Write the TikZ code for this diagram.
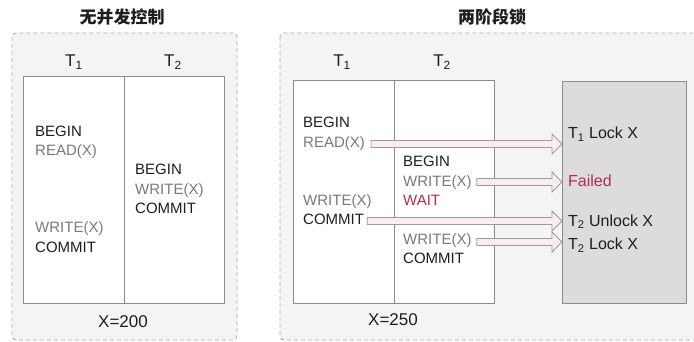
\documentclass[tikz,border=0pt]{standalone}
\usepackage{fontspec}
\setmainfont{Liberation Sans}
\newfontfamily\cjk{Noto Sans CJK SC}
\usetikzlibrary{calc}
\definecolor{panelbg}{HTML}{F4F4F4}
\definecolor{paneldash}{HTML}{A8A8A8}
\definecolor{boxline}{HTML}{8C8C8C}
\definecolor{lockbg}{HTML}{DCDCDC}
\definecolor{txtblack}{HTML}{1E1E1E}
\definecolor{txtgray}{HTML}{7A7A7A}
\definecolor{txtred}{HTML}{B0304E}
\definecolor{arrowfill}{HTML}{FBEDEF}
\definecolor{arrowline}{HTML}{9A9A9A}
\newcommand\blkarrow[2]{\draw[blockarrow] let \p1=(#1), \p2=(#2) in
  (\x1,\y1+3.5pt) -- (\x2-10pt,\y1+3.5pt) -- (\x2-10pt,\y1+10pt) -- (\x2,\y1)
  -- (\x2-10pt,\y1-10pt) -- (\x2-10pt,\y1-3.5pt) -- (\x1,\y1-3.5pt) -- cycle;}
\begin{document}
\begin{tikzpicture}[x=1pt,y=-1pt,
  panel/.style={draw=paneldash, fill=panelbg, dash pattern=on 4pt off 3pt, line width=0.8pt, rounded corners=4pt},
  tbox/.style={draw=boxline, fill=white, line width=1pt},
  lbox/.style={draw=boxline, fill=lockbg, line width=1pt},
  txt/.style={anchor=west, inner sep=0pt, font=\fontsize{15}{15}\selectfont, text height=11pt, text depth=3pt},
  blk/.style={txt, text=txtblack},
  gry/.style={txt, text=txtgray},
  redtxt/.style={txt, text=txtred},
  lock/.style={txt, text=txtblack, font=\fontsize{16}{16}\selectfont},
  head/.style={inner sep=0pt, text=txtblack, font=\fontsize{17}{17}\selectfont},
  title/.style={inner sep=0pt, text=txtblack, font=\cjk\bfseries\fontsize{17}{17}\selectfont},
  blockarrow/.style={draw=arrowline, fill=arrowfill, line width=0.8pt, line join=miter}]
\clip (0,0) rectangle (694,342);
\fill[white] (0,0) rectangle (694,342);

% ---------- left panel ----------
\node[title] (lt) at (122,17) {无并发控制};
\draw[panel] (12,33) rectangle (237,340);
\node[head] (lh1) at (74,62) {T\textsubscript{1}};
\node[head] (lh2) at (173,62) {T\textsubscript{2}};
\draw[tbox] (23,77) rectangle (224,303);
\draw[boxline, line width=1pt] (124,77) -- (124,303);
\node[blk] (la1) at (35,133) {BEGIN};
\node[gry] (la2) at (35,152) {READ(X)};
\node[gry] (la3) at (35,229) {WRITE(X)};
\node[blk] (la4) at (35,248) {COMMIT};
\node[blk] (lb1) at (135,171) {BEGIN};
\node[gry] (lb2) at (135,191) {WRITE(X)};
\node[blk] (lb3) at (135,210) {COMMIT};
\node[head] (lx) at (123,322) {X=200};

% ---------- right panel ----------
\node[title] (rt) at (492,17) {两阶段锁};
\draw[panel] (280,33) rectangle (720,340);
\node[head] (rh1) at (342,62) {T\textsubscript{1}};
\node[head] (rh2) at (442,62) {T\textsubscript{2}};
\draw[tbox] (293,81) rectangle (494,303);
\draw[boxline, line width=1pt] (394,81) -- (394,303);
\node[lbox, minimum width=124pt, minimum height=222pt, anchor=north west, inner sep=0pt] (gb) at (562,81) {};
\node[blk] (ra1) at (303,124) {BEGIN};
\node[gry] (ra2) at (303,144) {READ(X)};
\node[gry] (ra3) at (303,202) {WRITE(X)};
\node[blk] (ra4) at (303,221) {COMMIT};
\node[blk] (rb1) at (403,163) {BEGIN};
\node[gry] (rb2) at (403,182) {WRITE(X)};
\node[redtxt] (rb3) at (403,201) {WAIT};
\node[gry] (rb4) at (403,240) {WRITE(X)};
\node[blk] (rb5) at (403,259) {COMMIT};
\node[lock] (g1) at (568,135) {T\textsubscript{1} Lock X};
\node[lock, text=txtred] (g2) at (568,182) {Failed};
\node[lock] (g3) at (568,222) {T\textsubscript{2} Unlock X};
\node[lock] (g4) at (568,246) {T\textsubscript{2} Lock X};
\node[head] (rx) at (393,320) {X=250};

% ---------- block arrows ----------
\blkarrow{$(ra2.east)+(6,0)$}{gb.west |- ra2.east}
\blkarrow{$(rb2.east)+(5,0)$}{gb.west |- rb2.east}
\blkarrow{$(ra4.east)+(3,0)$}{gb.west |- ra4.east}
\blkarrow{$(rb4.east)+(5,2)$}{gb.west |- rb4.east}
\end{tikzpicture}
\end{document}
